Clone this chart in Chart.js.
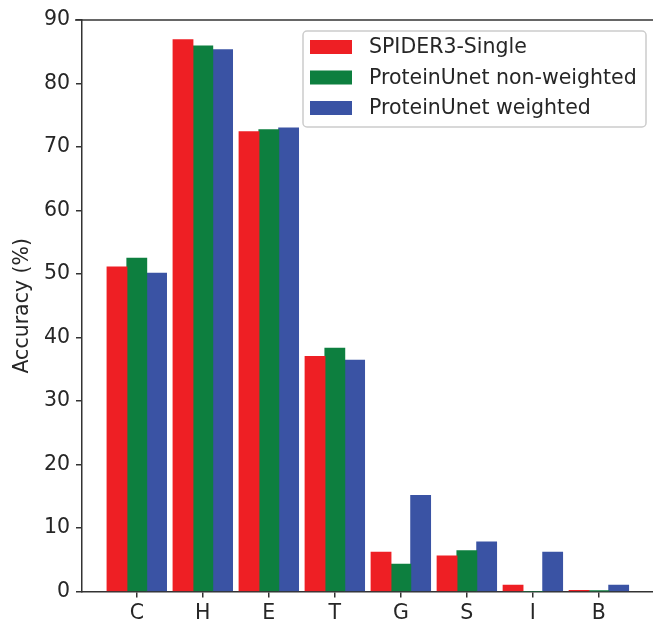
<!DOCTYPE html>
<html>
<head>
<meta charset="utf-8">
<script src="https://cdn.jsdelivr.net/npm/chart.js@4.4.0/dist/chart.umd.min.js"></script>
<style>
  html, body { margin: 0; padding: 0; background: #fff; }
  #wrap { width: 653px; height: 622px; }
</style>
</head>
<body>
<div id="wrap"><canvas id="barChart" width="653" height="622"></canvas></div>
<script>
// secondary structure classes
const categories = ['C', 'H', 'E', 'T', 'G', 'S', 'I', 'B'];

const seriesNames = ['SPIDER3-Single', 'ProteinUnet non-weighted', 'ProteinUnet weighted'];
const spider3   = [51.1, 86.9, 72.4, 37.0, 6.2, 5.6, 1.0, 0.15];
const unetPlain = [52.5, 85.9, 72.7, 38.3, 4.3, 6.4, 0.0, 0.05];
const unetW     = [50.1, 85.3, 73.0, 36.4, 15.1, 7.8, 6.2, 1.0];
const yTicks    = [0, 10, 20, 30, 40, 50, 60, 70, 80, 90];

const colors = ['#ee1f24', '#0d7f3f', '#3a53a4'];
const font = 'DejaVu Sans';
const fsize = 20.5;
const txt = '#262626';

function toPoints(arr) {
    return arr.map((v, i) => ({x: i, y: v}));
}

// legend box inside the plot, top right
const boxLegend = {
    id: 'boxLegend',
    afterDraw(chart) {
        const c = chart.ctx;
        const x0 = 303, y0 = 31, w = 343, h = 96;
        c.save();
        c.fillStyle = 'rgba(255,255,255,0.8)';
        c.strokeStyle = '#cccccc';
        c.lineWidth = 1.5;
        c.beginPath();
        c.roundRect(x0, y0, w, h, 4);
        c.fill();
        c.stroke();
        c.font = fsize + 'px "' + font + '"';
        c.textBaseline = 'middle';
        chart.data.datasets.forEach((ds, i) => {
            const cy = 47 + i * 30.5;
            c.fillStyle = ds.backgroundColor;
            c.fillRect(310, cy - 7, 42, 14);
            c.fillStyle = txt;
            c.fillText(ds.label, 369, cy + 1);
        });
        c.restore();
    }
};

// matplotlib-like top spine
const topSpine = {
    id: 'topSpine',
    afterDraw(chart) {
        const a = chart.chartArea, c = chart.ctx;
        c.save();
        c.strokeStyle = '#333333';
        c.lineWidth = 1.5;
        c.beginPath();
        c.moveTo(a.left - 7, a.top);
        c.lineTo(a.right, a.top);
        c.stroke();
        c.restore();
    }
};

const ctx = document.getElementById('barChart').getContext('2d');
new Chart(ctx, {
    type: 'bar',
    data: {
        datasets: [spider3, unetPlain, unetW].map((d, i) => ({
            label: seriesNames[i],
            data: toPoints(d),
            backgroundColor: colors[i],
            borderWidth: 0,
            inflateAmount: 0.5,
            categoryPercentage: 0.9,
            barPercentage: 1.0
        }))
    },
    options: {
        responsive: false,
        animation: false,
        layout: { padding: { top: 20, right: 0, left: 0, bottom: 0 } },
        plugins: {
            legend: { display: false },
            tooltip: { enabled: false }
        },
        scales: {
            x: {
                type: 'linear',
                offset: false,
                min: -0.83,
                max: 7.82,
                afterBuildTicks: s => { s.ticks = categories.map((_, i) => ({value: i})); },
                afterFit: s => { s.height = 30.5; },
                ticks: {
                    callback: v => categories[v],
                    color: txt,
                    font: { family: font, size: fsize },
                    padding: 4,
                    maxRotation: 0,
                    autoSkip: false
                },
                grid: { offset: false, drawOnChartArea: false, drawTicks: true, tickLength: 6, color: '#333333', lineWidth: 1.5 },
                border: { color: '#333333', width: 1.5 }
            },
            y: {
                min: 0,
                max: 90,
                afterBuildTicks: s => { s.ticks = yTicks.map(v => ({value: v})); },
                afterFit: s => { s.width = 82; },
                title: {
                    display: true,
                    text: 'Accuracy (%)',
                    color: txt,
                    font: { family: font, size: fsize },
                    padding: { top: 10, bottom: 0 }
                },
                ticks: {
                    color: txt,
                    font: { family: font, size: fsize },
                    padding: 6
                },
                grid: { drawOnChartArea: false, drawTicks: true, tickLength: 6, color: '#333333', lineWidth: 1.5 },
                border: { color: '#333333', width: 1.5 }
            }
        }
    },
    plugins: [boxLegend, topSpine]
});
</script>
</body>
</html>
